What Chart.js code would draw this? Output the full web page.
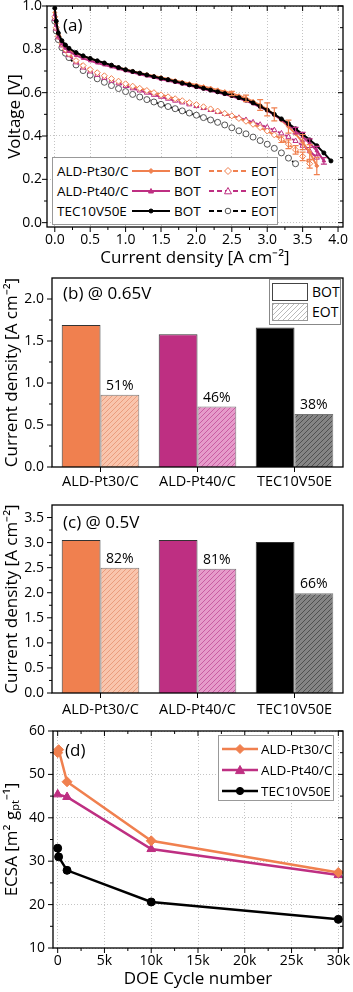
<!DOCTYPE html>
<html>
<head>
<meta charset="utf-8">
<script src="https://cdn.jsdelivr.net/npm/chart.js@4.4.0/dist/chart.umd.min.js"></script>
<style>
  body { margin: 0; background: #fff; font-family: 'Open Sans', sans-serif; color: #000; }
  #wrap { position: relative; width: 353px; height: 992px; overflow: hidden; }
  canvas { position: absolute; left: 0; }
  .txt { position: absolute; white-space: nowrap; line-height: 20px; font-size: 17px; }
  .box { position: absolute; background: #fff; border: 1px solid #999; box-sizing: border-box; }
  .lg { position: absolute; white-space: nowrap; font-size: 13.5px; line-height: 16px; }
  svg { position: absolute; overflow: visible; }
</style>
</head>
<body>
<div id="wrap">
  <canvas id="cA" width="353" height="268" style="top:0"></canvas>
  <canvas id="cB" width="353" height="232" style="top:268px"></canvas>
  <canvas id="cC" width="353" height="235" style="top:495px"></canvas>
  <canvas id="cD" width="353" height="280" style="top:712px"></canvas>
</div>
<script>
// categories / series
const categories = ['ALD-Pt30/C', 'ALD-Pt40/C', 'TEC10V50E'];
const seriesColors = ['#F0804F', '#BE2F82', '#000000'];
const seriesMarkers = ['rectRot', 'triangle', 'circle'];

// (a) polarization curves, current density [A cm-2] and voltage [V]
const cdBot = [0, 0.02, 0.05, 0.1, 0.15, 0.2, 0.3, 0.4, 0.5, 0.6, 0.7, 0.8, 0.9, 1.0, 1.1, 1.2, 1.3, 1.4, 1.5,
  1.6, 1.7, 1.8, 1.9, 2.0, 2.1, 2.2, 2.3, 2.4, 2.5, 2.6, 2.7, 2.8, 2.9, 3.0, 3.1, 3.2, 3.3, 3.4, 3.5, 3.6, 3.7, 3.8, 3.9];
const cdEot = cdBot;
const vBotPt30 = [0.97, 0.92, 0.87, 0.835, 0.815, 0.80, 0.782, 0.768, 0.757, 0.746, 0.736, 0.726, 0.716, 0.707,
  0.699, 0.691, 0.684, 0.677, 0.67, 0.663, 0.656, 0.649, 0.642, 0.635, 0.628, 0.621, 0.613, 0.605, 0.596, 0.586,
  0.574, 0.56, 0.543, 0.523, 0.50, 0.473, 0.443, 0.41, 0.372, 0.325, 0.262];
const vBotPt40 = [0.96, 0.91, 0.86, 0.825, 0.805, 0.79, 0.772, 0.758, 0.747, 0.737, 0.728, 0.719, 0.71, 0.701,
  0.693, 0.685, 0.677, 0.67, 0.662, 0.655, 0.648, 0.64, 0.633, 0.625, 0.617, 0.609, 0.601, 0.592, 0.583, 0.573,
  0.562, 0.549, 0.534, 0.517, 0.497, 0.475, 0.451, 0.425, 0.397, 0.367, 0.332, 0.285];
const vBotTec = [0.99, 0.93, 0.875, 0.84, 0.82, 0.805, 0.785, 0.77, 0.758, 0.747, 0.737, 0.727, 0.716, 0.706,
  0.698, 0.69, 0.682, 0.674, 0.667, 0.66, 0.652, 0.644, 0.636, 0.628, 0.62, 0.612, 0.604, 0.596, 0.587, 0.577,
  0.566, 0.553, 0.537, 0.52, 0.50, 0.479, 0.457, 0.433, 0.408, 0.382, 0.355, 0.322, 0.285];
const vEotPt30 = [0.95, 0.90, 0.86, 0.825, 0.80, 0.78, 0.748, 0.725, 0.707, 0.692, 0.678, 0.665, 0.653, 0.641,
  0.63, 0.62, 0.61, 0.60, 0.59, 0.581, 0.572, 0.563, 0.554, 0.545, 0.535, 0.525, 0.515, 0.504, 0.493, 0.481,
  0.468, 0.454, 0.439, 0.423, 0.405, 0.385, 0.362, 0.336, 0.306, 0.272];
const vEotPt40 = [0.94, 0.895, 0.855, 0.818, 0.793, 0.773, 0.74, 0.716, 0.698, 0.682, 0.668, 0.655, 0.643, 0.631,
  0.62, 0.61, 0.60, 0.59, 0.581, 0.572, 0.563, 0.555, 0.546, 0.538, 0.529, 0.52, 0.511, 0.502, 0.493, 0.484,
  0.474, 0.463, 0.452, 0.44, 0.427, 0.412, 0.396, 0.377, 0.355, 0.33, 0.30];
const vEotTec = [0.93, 0.885, 0.845, 0.808, 0.782, 0.762, 0.728, 0.702, 0.681, 0.664, 0.648, 0.633, 0.619, 0.605,
  0.592, 0.58, 0.568, 0.557, 0.546, 0.536, 0.526, 0.516, 0.506, 0.496, 0.485, 0.474, 0.463, 0.451, 0.438, 0.424,
  0.41, 0.395, 0.379, 0.362, 0.343, 0.322, 0.298, 0.272];
// error bars (current density where shown, +/- voltage)
const errCdBotPt30 = [2.5, 2.7, 2.9, 3.0, 3.1, 3.3, 3.5, 3.6, 3.7];
const errBotPt30 = [0.01, 0.015, 0.025, 0.03, 0.03, 0.03, 0.035, 0.035, 0.04];
const errCdBotPt40 = [3.4, 3.5, 3.6, 3.7, 3.8];
const errBotPt40 = [0.015, 0.02, 0.02, 0.02, 0.015];
const errCdEotPt30 = [3.2, 3.3, 3.4, 3.5, 3.6];
const errEotPt30 = [0.015, 0.02, 0.02, 0.02, 0.02];
const ticksCd = [0, 0.5, 1.0, 1.5, 2.0, 2.5, 3.0, 3.5, 4.0];
const ticksVolt = [0, 0.2, 0.4, 0.6, 0.8, 1.0];

// (b) @ 0.65V and (c) @ 0.5V, current density [A cm-2]
const bot065 = [1.69, 1.58, 1.66];
const eot065 = [0.86, 0.72, 0.63];
const pct065 = ['51%', '46%', '38%'];
const bot05 = [3.05, 3.05, 3.01];
const eot05 = [2.50, 2.48, 1.99];
const pct05 = ['82%', '81%', '66%'];
const ticksJ065 = [0, 0.5, 1.0, 1.5, 2.0];
const ticksJ05 = [0, 0.5, 1.0, 1.5, 2.0, 2.5, 3.0, 3.5];

// (d) ECSA vs DOE cycles
const doePt30 = [0, 100, 1000, 10000, 30000];
const ecsaPt30 = [55.0, 55.7, 48.3, 34.7, 27.4];
const doePt40 = [0, 1000, 10000, 30000];
const ecsaPt40 = [45.4, 44.8, 32.8, 26.8];
const doeTec = [0, 100, 1000, 10000, 30000];
const ecsaTec = [33.0, 31.0, 27.9, 20.6, 16.6];
const ticksDoe = [0, 5000, 10000, 15000, 20000, 25000, 30000];
const ticksDoeLabels = ['0', '5k', '10k', '15k', '20k', '25k', '30k'];
const ticksEcsa = [10, 20, 30, 40, 50, 60];

Chart.defaults.font.family = "'Open Sans', sans-serif";
Chart.defaults.font.size = 14;
Chart.defaults.color = '#000';

const titleFont = { size: 17 };
const fixY = w => s => { s.width = w; s.paddingTop = 0; s.paddingBottom = 0; };
const fixX = h => s => { s.height = h; s.paddingLeft = 0; s.paddingRight = 0; };
const setTicks = vals => s => { s.ticks = vals.map(v => ({ value: v })); };
const dotGrid = { color: '#c4c4c4', lineWidth: 1, drawTicks: false };
const dotBorder = { display: false, dash: [1, 2] };

function minorVals(scale, n) {
  const v = scale.ticks.map(t => t.value);
  const step = v[1] - v[0], out = [];
  for (let k = -1; k < v.length; k++) {
    for (let j = 1; j <= n; j++) {
      const m = v[0] + k * step + step * j / (n + 1);
      if (m > scale.min && m < scale.max) out.push(m);
    }
  }
  return out;
}

// box around the plot with Origin-like ticks
const frame = {
  id: 'frame',
  afterDraw(chart, args, o) {
    const { ctx, chartArea: a, scales: { x, y } } = chart;
    ctx.save();
    ctx.strokeStyle = '#000';
    ctx.lineWidth = 1;
    const seg = (x1, y1, x2, y2) => { ctx.beginPath(); ctx.moveTo(x1, y1); ctx.lineTo(x2, y2); ctx.stroke(); };
    const xMaj = x.ticks.map((t, i) => x.getPixelForTick(i));
    const xMin = o.minorX ? minorVals(x, o.minorX).map(v => x.getPixelForValue(v)) : [];
    const yMaj = y.ticks.map((t, i) => y.getPixelForTick(i));
    const yMin = o.minorY ? minorVals(y, o.minorY).map(v => y.getPixelForValue(v)) : [];
    xMaj.forEach(p => { seg(p, a.bottom, p, a.bottom + 5); if (o.mirror) seg(p, a.top, p, a.top + 5); });
    xMin.forEach(p => { seg(p, a.bottom, p, a.bottom + 3); if (o.mirror) seg(p, a.top, p, a.top + 3); });
    yMaj.forEach(p => { seg(a.left, p, a.left - 5, p); if (o.mirror) seg(a.right, p, a.right - 5, p); });
    yMin.forEach(p => { seg(a.left, p, a.left - 3, p); if (o.mirror) seg(a.right, p, a.right - 3, p); });
    ctx.lineWidth = 1.3;
    ctx.strokeRect(a.left, a.top, a.right - a.left, a.bottom - a.top);
    ctx.restore();
  }
};

const errorBars = {
  id: 'errorBars',
  afterDatasetsDraw(chart) {
    const { ctx, scales: { x, y } } = chart;
    chart.data.datasets.forEach(ds => {
      if (!ds.errX) return;
      ctx.save();
      ctx.strokeStyle = ds.borderColor;
      ctx.lineWidth = 1.2;
      ds.errX.forEach((cx, k) => {
        const p = ds.data.find(d => Math.abs(d.x - cx) < 1e-9);
        if (!p) return;
        const px = x.getPixelForValue(p.x);
        const y1 = y.getPixelForValue(p.y - ds.errY[k]), y2 = y.getPixelForValue(p.y + ds.errY[k]);
        ctx.beginPath();
        ctx.moveTo(px, y1); ctx.lineTo(px, y2);
        ctx.moveTo(px - 3, y1); ctx.lineTo(px + 3, y1);
        ctx.moveTo(px - 3, y2); ctx.lineTo(px + 3, y2);
        ctx.stroke();
      });
      ctx.restore();
    });
  }
};

const pctLabels = {
  id: 'pctLabels',
  afterDatasetsDraw(chart) {
    const ds = chart.data.datasets[1];
    const ctx = chart.ctx;
    ctx.save();
    ctx.font = "14px 'Open Sans'";
    ctx.fillStyle = '#000';
    ctx.textAlign = 'center';
    ctx.textBaseline = 'alphabetic';
    chart.getDatasetMeta(1).data.forEach((bar, i) => ctx.fillText(ds.pct[i], bar.x, bar.y - 5));
    ctx.restore();
  }
};

function curve(xs, ys, idx, eot, errX, errY) {
  const color = seriesColors[idx];
  return {
    data: ys.map((v, i) => ({ x: xs[i], y: v })),
    borderColor: color,
    backgroundColor: color,
    borderWidth: 2,
    borderDash: eot ? [5, 3] : [],
    pointStyle: seriesMarkers[idx],
    pointRadius: eot ? 3 : 2,
    pointBorderWidth: 1,
    pointBorderColor: eot && idx === 2 ? '#555' : color,
    pointBackgroundColor: eot ? '#fff' : color,
    tension: 0,
    errX: errX, errY: errY
  };
}

// (a)
new Chart(document.getElementById('cA'), {
  type: 'line',
  data: {
    datasets: [
      curve(cdBot, vBotTec, 2, false),
      curve(cdBot, vBotPt40, 1, false, errCdBotPt40, errBotPt40),
      curve(cdBot, vBotPt30, 0, false, errCdBotPt30, errBotPt30),
      curve(cdEot, vEotPt30, 0, true, errCdEotPt30, errEotPt30),
      curve(cdEot, vEotPt40, 1, true),
      curve(cdEot, vEotTec, 2, true)
    ]
  },
  options: {
    responsive: false, animation: false,
    layout: { padding: { top: 6, right: 10, left: 0, bottom: 0 } },
    plugins: { legend: { display: false }, tooltip: { enabled: false }, frame: { minorX: 1, minorY: 1, mirror: true } },
    scales: {
      x: {
        type: 'linear', min: -0.11, max: 4.07,
        afterBuildTicks: setTicks(ticksCd), afterFit: fixX(41),
        ticks: { callback: v => v.toFixed(1), padding: 5, autoSkip: false, maxRotation: 0 },
        grid: dotGrid, border: dotBorder,
        title: { display: true, text: 'Current density [A cm⁻²]', font: titleFont, padding: { top: 0, bottom: 0 } }
      },
      y: {
        min: -0.02, max: 1.0,
        afterBuildTicks: setTicks(ticksVolt), afterFit: fixY(47),
        ticks: { callback: v => v.toFixed(1), padding: 5, autoSkip: false },
        grid: dotGrid, border: dotBorder,
        title: { display: true, text: 'Voltage [V]', font: titleFont, padding: { top: 5, bottom: 0 } }
      }
    }
  },
  plugins: [frame, errorBars]
});

// hatched fills for EOT bars
function hatch(bg, line) {
  const c = document.createElement('canvas');
  c.width = 5; c.height = 5;
  const g = c.getContext('2d');
  g.fillStyle = bg; g.fillRect(0, 0, 5, 5);
  g.strokeStyle = line; g.lineWidth = 0.9;
  g.beginPath();
  g.moveTo(-1, 6); g.lineTo(6, -1);
  g.moveTo(-1, 1); g.lineTo(1, -1);
  g.moveTo(4, 6); g.lineTo(6, 4);
  g.stroke();
  return g.createPattern(c, 'repeat');
}
const botFill = seriesColors;
const eotFill = [hatch('#F9C5AD', '#E89878'), hatch('#E69BCA', '#C4569C'), hatch('#858585', '#4a4a4a')];

function barChart(id, bot, eot, pct, max, ticks, topPad, xH, labPad) {
  return new Chart(document.getElementById(id), {
    type: 'bar',
    data: {
      labels: categories,
      datasets: [
        { data: bot, backgroundColor: botFill, borderColor: '#333', borderWidth: 1, categoryPercentage: 0.8, barPercentage: 1 },
        { data: eot, pct: pct, backgroundColor: eotFill, borderColor: '#777', borderWidth: 1, categoryPercentage: 0.8, barPercentage: 1 }
      ]
    },
    options: {
      responsive: false, animation: false,
      layout: { padding: { top: topPad, right: 10, left: 0, bottom: 0 } },
      plugins: { legend: { display: false }, tooltip: { enabled: false }, frame: { minorX: 0, minorY: 1, mirror: false } },
      scales: {
        x: {
          afterFit: fixX(xH),
          ticks: { padding: labPad, font: { size: 14.5 }, autoSkip: false, maxRotation: 0 },
          grid: { display: false, drawTicks: false }, border: { display: false }
        },
        y: {
          min: 0, max: max,
          afterBuildTicks: setTicks(ticks), afterFit: fixY(52),
          ticks: { callback: v => v.toFixed(1), padding: 8, autoSkip: false },
          grid: { display: false, drawTicks: false }, border: { display: false },
          title: { display: true, text: 'Current density [A cm⁻²]', font: titleFont, padding: { top: 2, bottom: 0 } }
        }
      }
    },
    plugins: [frame, pctLabels]
  });
}
barChart('cB', bot065, eot065, pct065, 2.25, ticksJ065, 10, 33, 6);
barChart('cC', bot05, eot05, pct05, 3.75, ticksJ05, 10, 37, 8);

// (d)
function ecsa(xs, ys, idx) {
  const color = seriesColors[idx];
  return {
    data: ys.map((v, i) => ({ x: xs[i], y: v })),
    borderColor: color, backgroundColor: color,
    borderWidth: 2.5, pointStyle: seriesMarkers[idx],
    pointRadius: idx === 2 ? 4 : 5, pointBorderWidth: 1,
    pointBackgroundColor: color, pointBorderColor: color, tension: 0
  };
}
new Chart(document.getElementById('cD'), {
  type: 'line',
  data: { datasets: [ecsa(doePt30, ecsaPt30, 0), ecsa(doePt40, ecsaPt40, 1), ecsa(doeTec, ecsaTec, 2)] },
  options: {
    responsive: false, animation: false,
    layout: { padding: { top: 19, right: 10, left: 0, bottom: 0 } },
    plugins: { legend: { display: false }, tooltip: { enabled: false }, frame: { minorX: 1, minorY: 1, mirror: true } },
    scales: {
      x: {
        type: 'linear', min: -500, max: 30500,
        afterBuildTicks: setTicks(ticksDoe), afterFit: fixX(44),
        ticks: { callback: (v, i) => ticksDoeLabels[i], padding: 5, autoSkip: false, maxRotation: 0 },
        grid: dotGrid, border: dotBorder,
        title: { display: true, text: 'DOE Cycle number', font: titleFont, padding: { top: 0, bottom: 3 } }
      },
      y: {
        min: 10, max: 60,
        afterBuildTicks: setTicks(ticksEcsa), afterFit: fixY(53),
        ticks: { padding: 8, autoSkip: false },
        grid: dotGrid, border: dotBorder,
        title: { display: true, text: 'ECSA [m² gₚₜ⁻¹]', font: titleFont, padding: { top: 2, bottom: 0 } }
      }
    }
  },
  plugins: [frame]
});

// overlays: panel labels and legends
const wrap = document.getElementById('wrap');
function add(html) { wrap.insertAdjacentHTML('beforeend', html); }
function markerSvg(idx, cx, cy, r, fill, stroke) {
  if (idx === 0) return `<polygon points="${cx},${cy - r} ${cx + r},${cy} ${cx},${cy + r} ${cx - r},${cy}" fill="${fill}" stroke="${stroke}"/>`;
  if (idx === 1) return `<polygon points="${cx},${cy - r} ${cx + r},${cy + r * 0.8} ${cx - r},${cy + r * 0.8}" fill="${fill}" stroke="${stroke}"/>`;
  return `<circle cx="${cx}" cy="${cy}" r="${r * 0.8}" fill="${fill}" stroke="${stroke}"/>`;
}
function sample(left, yc, w, idx, dashed, lw, r, open) {
  const c = seriesColors[idx];
  const stroke = open && idx === 2 ? '#555' : c;
  return `<svg style="left:${left}px;top:${yc - 6}px" width="${w}" height="12">` +
    `<line x1="0" y1="6" x2="${w}" y2="6" stroke="${c}" stroke-width="${lw}" ${dashed ? 'stroke-dasharray="5 3"' : ''}/>` +
    markerSvg(idx, w / 2, 6, r, open ? '#fff' : c, stroke) + `</svg>`;
}

add(`<div class="txt" style="left:63px;top:15px">(a)</div>`);
add(`<div class="txt" style="left:63px;top:283px">(b) @ 0.65V</div>`);
add(`<div class="txt" style="left:63px;top:512px">(c) @ 0.5V</div>`);
add(`<div class="txt" style="left:65px;top:740px">(d)</div>`);

// legend (a)
add(`<div class="box" style="left:52px;top:157px;width:226px;height:68px"></div>`);
[171, 191, 211].forEach((yc, i) => {
  add(`<div class="lg" style="left:57px;top:${yc - 8}px">${categories[i]}</div>`);
  add(sample(132, yc, 38, i, false, 2, 2.5, false));
  add(`<div class="lg" style="left:174px;top:${yc - 8}px">BOT</div>`);
  add(sample(209, yc, 38, i, true, 2, 3.5, true));
  add(`<div class="lg" style="left:251px;top:${yc - 8}px">EOT</div>`);
});

// legend (b)
add(`<div class="box" style="left:269px;top:279px;width:72px;height:46px;border-color:#888"></div>`);
add(`<div style="position:absolute;left:272px;top:283px;width:36px;height:18px;box-sizing:border-box;border:1px solid #444;background:#fff"></div>`);
add(`<div style="position:absolute;left:272px;top:303px;width:36px;height:18px;box-sizing:border-box;border:1px solid #999;background:repeating-linear-gradient(-45deg,#fff 0 2.5px,#bbb 2.5px 3.5px)"></div>`);
add(`<div class="lg" style="left:312px;top:284px;font-size:14px">BOT</div>`);
add(`<div class="lg" style="left:312px;top:304px;font-size:14px">EOT</div>`);

// legend (d)
add(`<div class="box" style="left:218px;top:735px;width:116px;height:66px"></div>`);
[749, 770, 791].forEach((yc, i) => {
  add(sample(222, yc, 36, i, false, 2.5, 4.5, false));
  add(`<div class="lg" style="left:261px;top:${yc - 8}px">${categories[i]}</div>`);
});
</script>
</body>
</html>
